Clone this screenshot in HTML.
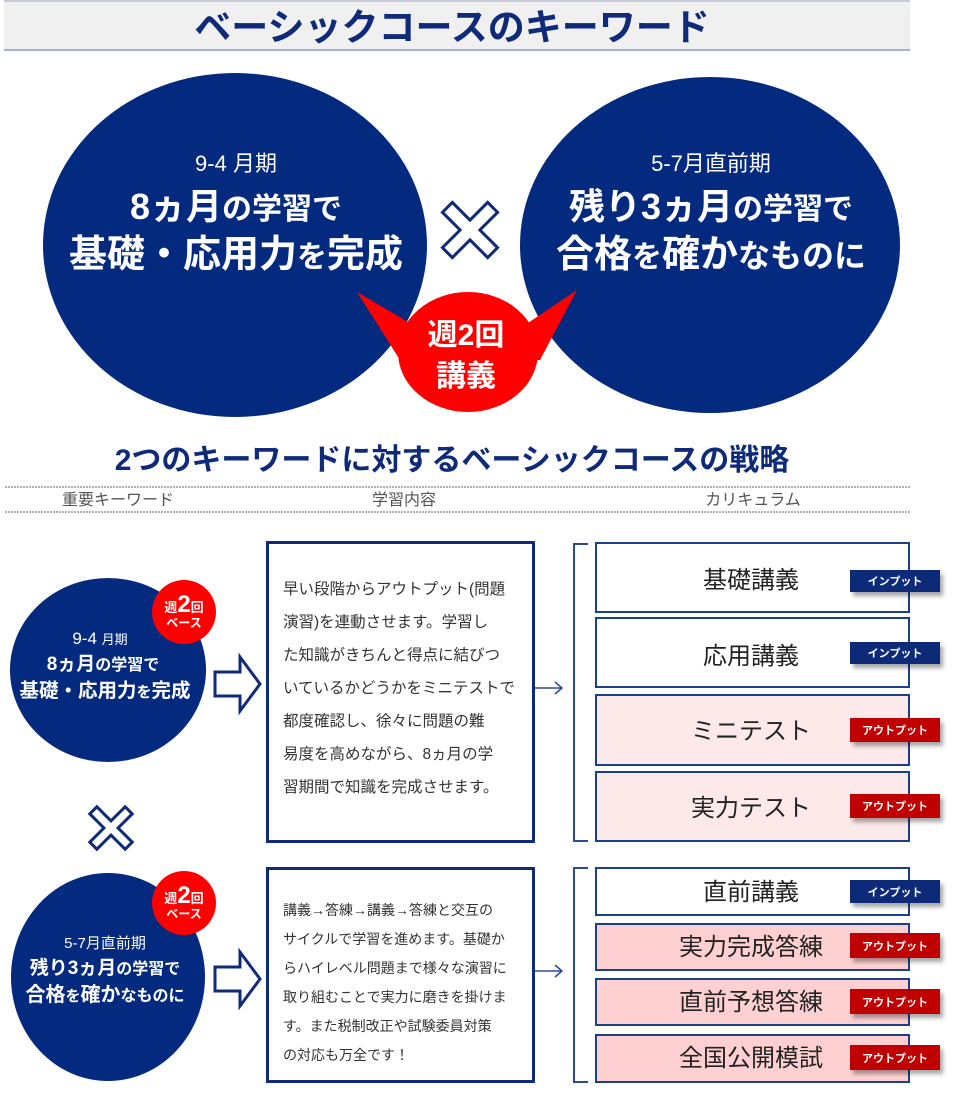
<!DOCTYPE html>
<html><head><meta charset="utf-8"><style>
body{margin:0;background:#fff;width:960px;height:1110px;overflow:hidden;font-family:"Liberation Sans","Noto Sans CJK JP",sans-serif}
svg text{font-family:"Liberation Sans","Noto Sans CJK JP",sans-serif}
</style></head><body>
<svg width="960" height="1110" viewBox="0 0 960 1110" xmlns="http://www.w3.org/2000/svg">
<defs>
<filter id="sh" x="-20%" y="-20%" width="150%" height="170%"><feDropShadow dx="3" dy="4" stdDeviation="2" flood-color="#000" flood-opacity="0.35"/></filter>
</defs>
<rect x="4" y="0" width="906" height="51" fill="#f0f0f0"/>
<line x1="4" y1="1" x2="910" y2="1" fill="none" stroke="#9aa4c0" stroke-width="1"/>
<line x1="4" y1="50" x2="910" y2="50" stroke="#a8b0cc" stroke-width="2"/>
<text x="452" y="40" font-size="37" font-weight="bold" fill="#0f2a78" text-anchor="middle">ベーシックコースのキーワード</text>

<ellipse cx="235" cy="245" rx="192" ry="172" fill="#032a7e"/>
<ellipse cx="710" cy="245" rx="190" ry="168" fill="#032a7e"/>
<path d="M357 292 L430 335 L510 335 L577 290 L540 360 L400 360 Z" fill="#ff0000"/>
<ellipse cx="468" cy="352" rx="70" ry="60" fill="#ff0000"/>
<text x="466" y="345" font-size="30" font-weight="bold" fill="#fff" text-anchor="middle">週2回</text>
<text x="466" y="386" font-size="30" font-weight="bold" fill="#fff" text-anchor="middle">講義</text>
<g transform="translate(470,230) rotate(45)">
<path d="M-7 -32 H7 V-7 H32 V7 H7 V32 H-7 V7 H-32 V-7 H-7 Z" fill="#fff" stroke="#0f2a78" stroke-width="3"/>
</g>
<g fill="#fff" text-anchor="middle">
<text x="236" y="171" font-size="22">9-4 月期</text>
<text x="236" y="219" font-size="36" font-weight="bold">8ヵ月<tspan font-size="30">の学習で</tspan></text>
<text x="236" y="267" font-size="38" font-weight="bold">基礎・応用力<tspan font-size="30">を</tspan>完成</text>
<text x="711" y="171" font-size="22">5-7月直前期</text>
<text x="711" y="219" font-size="36" font-weight="bold">残り3ヵ月<tspan font-size="30">の学習で</tspan></text>
<text x="711" y="267" font-size="38" font-weight="bold">合格<tspan font-size="30">を</tspan>確か<tspan font-size="32">なものに</tspan></text>
</g>

<text x="452" y="470" font-size="30" font-weight="bold" fill="#0f2a78" text-anchor="middle">2つのキーワードに対するベーシックコースの戦略</text>
<line x1="5" y1="487" x2="910" y2="487" stroke="#999" stroke-width="1.5" stroke-dasharray="2,1"/>
<line x1="5" y1="512" x2="910" y2="512" stroke="#999" stroke-width="1.5" stroke-dasharray="2,1"/>
<g font-size="16" fill="#555" text-anchor="middle">
<text x="118" y="505">重要キーワード</text>
<text x="404" y="505">学習内容</text>
<text x="753" y="505">カリキュラム</text>
</g>

<ellipse cx="108" cy="670" rx="98" ry="92" fill="#032a7e"/>
<circle cx="184" cy="612" r="32" fill="#ff0000"/>
<text x="184" y="612" font-size="13" font-weight="bold" fill="#fff" text-anchor="middle">週<tspan font-size="24">2</tspan>回</text>
<text x="184" y="627" font-size="12" font-weight="bold" fill="#fff" text-anchor="middle">ベース</text>
<g fill="#fff" text-anchor="middle">
<text x="100" y="644" font-size="17">9-4 <tspan font-size="13">月期</tspan></text>
<text x="103" y="670" font-size="19" font-weight="bold">8ヵ月<tspan font-size="16">の学習で</tspan></text>
<text x="105" y="697" font-size="19.5" font-weight="bold">基礎・応用力<tspan font-size="15">を</tspan>完成</text>
</g>
<path d="M215 672 H240 V657 L260 684 L240 711 V696 H215 Z" fill="#fff" stroke="#0f2a78" stroke-width="3"/>
<rect x="267.5" y="542.5" width="266" height="299" fill="#fff" stroke="#0f2a78" stroke-width="3"/>
<g font-size="15.5" fill="#333">
<text x="283" y="594">早い段階からアウトプット(問題</text>
<text x="283" y="627">演習)を連動させます。学習し</text>
<text x="283" y="660">た知識がきちんと得点に結びつ</text>
<text x="283" y="693">いているかどうかをミニテストで</text>
<text x="283" y="726">都度確認し、徐々に問題の難</text>
<text x="283" y="759">易度を高めながら、8ヵ月の学</text>
<text x="283" y="792">習期間で知識を完成させます。</text>
</g>
<path d="M535 688 H562 M555 682 L562 688 L555 694" fill="none" stroke="#2a4a9a" stroke-width="1.5"/>
<path d="M588 544 H574 V841 H588" fill="none" stroke="#2a4a9a" stroke-width="2"/>
<g stroke="#1c3f8a" stroke-width="2">
<rect x="596" y="543" width="313" height="69" fill="#fff"/>
<rect x="596" y="618" width="313" height="69" fill="#fff"/>
<rect x="596" y="695" width="313" height="70" fill="#fde9ea"/>
<rect x="596" y="772" width="313" height="69" fill="#fde9ea"/>
</g>
<g font-size="24" fill="#222" text-anchor="middle">
<text x="751" y="588">基礎講義</text>
<text x="751" y="664">応用講義</text>
<text x="751" y="739">ミニテスト</text>
<text x="751" y="816">実力テスト</text>
</g>
<g filter="url(#sh)">
<rect x="850" y="570" width="90" height="22" fill="#0f2a78"/>
<rect x="850" y="642" width="90" height="22" fill="#0f2a78"/>
<rect x="850" y="718" width="90" height="24" fill="#c00000"/>
<rect x="850" y="794" width="90" height="24" fill="#c00000"/>
</g>
<g font-size="11" font-weight="bold" fill="#fff" text-anchor="middle">
<text x="895" y="585">インプット</text>
<text x="895" y="657">インプット</text>
<text x="895" y="734">アウトプット</text>
<text x="895" y="810">アウトプット</text>
</g>

<g transform="translate(111,828) rotate(45)">
<path d="M-5 -25 H5 V-5 H25 V5 H5 V25 H-5 V5 H-25 V-5 H-5 Z" fill="#fff" stroke="#0f2a78" stroke-width="3"/>
</g>

<ellipse cx="108" cy="977" rx="97" ry="104" fill="#032a7e"/>
<circle cx="184" cy="903" r="32" fill="#ff0000"/>
<text x="184" y="903" font-size="13" font-weight="bold" fill="#fff" text-anchor="middle">週<tspan font-size="24">2</tspan>回</text>
<text x="184" y="918" font-size="12" font-weight="bold" fill="#fff" text-anchor="middle">ベース</text>
<g fill="#fff" text-anchor="middle">
<text x="105" y="948" font-size="15">5-7月直前期</text>
<text x="105" y="974" font-size="19" font-weight="bold">残り3ヵ月<tspan font-size="16">の学習で</tspan></text>
<text x="105" y="1001" font-size="20" font-weight="bold">合格<tspan font-size="15">を</tspan>確か<tspan font-size="16">なものに</tspan></text>
</g>
<path d="M215 967 H240 V952 L260 979 L240 1006 V991 H215 Z" fill="#fff" stroke="#0f2a78" stroke-width="3"/>
<rect x="267.5" y="868.5" width="266" height="213" fill="#fff" stroke="#0f2a78" stroke-width="3"/>
<g font-size="14" fill="#333">
<text x="283" y="915">講義→答練→講義→答練と交互の</text>
<text x="283" y="944">サイクルで学習を進めます。基礎か</text>
<text x="283" y="973">らハイレベル問題まで様々な演習に</text>
<text x="283" y="1002">取り組むことで実力に磨きを掛けま</text>
<text x="283" y="1031">す。また税制改正や試験委員対策</text>
<text x="283" y="1060">の対応も万全です！</text>
</g>
<path d="M535 971 H562 M555 965 L562 971 L555 977" fill="none" stroke="#2a4a9a" stroke-width="1.5"/>
<path d="M588 868 H574 V1082 H588" fill="none" stroke="#2a4a9a" stroke-width="2"/>
<g stroke="#1c3f8a" stroke-width="2">
<rect x="596" y="868" width="313" height="47" fill="#fff"/>
<rect x="596" y="924" width="313" height="46" fill="#ffd0d2"/>
<rect x="596" y="979" width="313" height="46" fill="#ffd0d2"/>
<rect x="596" y="1035" width="313" height="47" fill="#ffd0d2"/>
</g>
<g font-size="24" fill="#222" text-anchor="middle">
<text x="751" y="900">直前講義</text>
<text x="751" y="955">実力完成答練</text>
<text x="751" y="1010">直前予想答練</text>
<text x="751" y="1066">全国公開模試</text>
</g>
<g filter="url(#sh)">
<rect x="850" y="880" width="90" height="23" fill="#0f2a78"/>
<rect x="850" y="933" width="90" height="25" fill="#c00000"/>
<rect x="850" y="989" width="90" height="25" fill="#c00000"/>
<rect x="850" y="1045" width="90" height="25" fill="#c00000"/>
</g>
<g font-size="11" font-weight="bold" fill="#fff" text-anchor="middle">
<text x="895" y="896">インプット</text>
<text x="895" y="950">アウトプット</text>
<text x="895" y="1006">アウトプット</text>
<text x="895" y="1062">アウトプット</text>
</g>
</svg>
</body></html>
